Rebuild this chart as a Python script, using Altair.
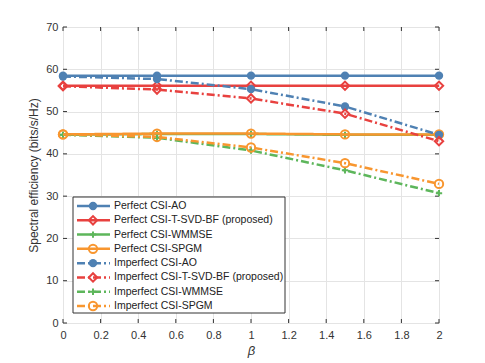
import altair as alt
import pandas as pd

beta = [0, 0.5, 1, 1.5, 2]
series_names = [
    "Perfect CSI-AO",
    "Perfect CSI-T-SVD-BF (proposed)",
    "Perfect CSI-WMMSE",
    "Perfect CSI-SPGM",
    "Imperfect CSI-AO",
    "Imperfect CSI-T-SVD-BF (proposed)",
    "Imperfect CSI-WMMSE",
    "Imperfect CSI-SPGM",
]
perfect_ao = [58.5, 58.5, 58.5, 58.5, 58.5]
perfect_tsvd = [56.1, 56.1, 56.1, 56.1, 56.1]
perfect_wmmse = [44.5, 44.7, 44.7, 44.5, 44.5]
perfect_spgm = [44.6, 44.8, 44.8, 44.6, 44.6]
imperfect_ao = [58.3, 57.7, 55.3, 51.2, 44.5]
imperfect_tsvd = [56.0, 55.2, 53.1, 49.5, 43.0]
imperfect_wmmse = [44.5, 43.8, 40.8, 36.1, 30.7]
imperfect_spgm = [44.6, 44.0, 41.5, 37.8, 32.9]
values = [perfect_ao, perfect_tsvd, perfect_wmmse, perfect_spgm,
          imperfect_ao, imperfect_tsvd, imperfect_wmmse, imperfect_spgm]

colors = ["#4f81b3", "#e8413f", "#5db65b", "#f8962f"] * 2
PLUS = "M-1,0L1,0M0,-1L0,1"
shapes = ["circle", "diamond", PLUS, "circle"] * 2
filled = [True, False, False, False] * 2
dashes = [[1, 0]] * 4 + [[8, 3, 2, 3]] * 4

x_ticks = [0, 0.2, 0.4, 0.6, 0.8, 1.0, 1.2, 1.4, 1.6, 1.8, 2.0]
y_ticks = [0, 10, 20, 30, 40, 50, 60, 70]

W, H = 376, 296
FONT = "Liberation Sans"

xs = alt.Scale(domain=[0, 2], nice=False, zero=False)
ys = alt.Scale(domain=[0, 70], nice=False)

ax_x = alt.Axis(values=x_ticks, title="β", titleFontStyle="italic",
                titleFont=FONT, titleFontSize=13, titleFontWeight="normal",
                titleColor="#333333", titlePadding=4,
                labelFont=FONT, labelFontSize=11, labelColor="#333333",
                labelExpr="format(datum.value, '~g')",
                labelOverlap=False, labelFlush=False,
                grid=True, gridColor="#e4e4e4", gridWidth=1,
                domain=False, ticks=False, labelPadding=6)
ax_y = alt.Axis(values=y_ticks, title="Spectral efficiency (bits/s/Hz)",
                titleFont=FONT, titleFontSize=12, titleFontWeight="normal",
                titleColor="#333333", titlePadding=5,
                labelFont=FONT, labelFontSize=11, labelColor="#333333",
                labelOverlap=False, labelFlush=False,
                grid=True, gridColor="#e4e4e4", gridWidth=1,
                domain=False, ticks=False, labelPadding=5)

def X(field):
    return alt.X(field, scale=xs, axis=ax_x)

def Y(field):
    return alt.Y(field, scale=ys, axis=ax_y)

# inward ticks
xt_df = pd.DataFrame({"t": x_ticks})
yt_df = pd.DataFrame({"t": y_ticks})
tick_color = "#333333"
ticks = [
    alt.Chart(xt_df).mark_rule(color=tick_color, strokeWidth=1).encode(
        x=X("t:Q"), y=alt.value(H), y2=alt.value(H - 4)),
    alt.Chart(xt_df).mark_rule(color=tick_color, strokeWidth=1).encode(
        x=X("t:Q"), y=alt.value(0), y2=alt.value(4)),
    alt.Chart(yt_df).mark_rule(color=tick_color, strokeWidth=1).encode(
        y=Y("t:Q"), x=alt.value(0), x2=alt.value(4)),
    alt.Chart(yt_df).mark_rule(color=tick_color, strokeWidth=1).encode(
        y=Y("t:Q"), x=alt.value(W), x2=alt.value(W - 4)),
]

layers = ticks
for i, name in enumerate(series_names):
    df = pd.DataFrame({"beta": beta, "se": values[i], "series": name})
    line = alt.Chart(df).mark_line(color=colors[i], strokeWidth=2.5,
                                   strokeDash=dashes[i]).encode(
        x=X("beta:Q"), y=Y("se:Q"))
    pt = alt.Chart(df).mark_point(color=colors[i], shape=shapes[i],
                                  filled=filled[i], size=70 if shapes[i] != PLUS else 40,
                                  strokeWidth=2, opacity=1).encode(
        x=X("beta:Q"), y=Y("se:Q"))
    layers += [line, pt]

main = alt.layer(*layers)

# custom legend
LX0, LX1, LY0, LY1 = 10, 222, 170, 286
box = alt.Chart(pd.DataFrame({"k": [0]})).mark_rect(
    fill="white", stroke="#333333", strokeWidth=1).encode(
    x=alt.value(LX0), x2=alt.value(LX1), y=alt.value(LY0), y2=alt.value(LY1))

leg_layers = [box]
ly = alt.Scale(domain=[0, 7], range=[179, 279])
for i, name in enumerate(series_names):
    ldf = pd.DataFrame({"idx": [i], "label": [name]})
    leg_layers.append(alt.Chart(ldf).mark_rule(color=colors[i], strokeWidth=2.5,
                                               strokeDash=dashes[i]).encode(
        y=alt.Y("idx:Q", scale=ly, axis=None), x=alt.value(14), x2=alt.value(47)))
    leg_layers.append(alt.Chart(ldf).mark_point(color=colors[i], shape=shapes[i],
                                                filled=filled[i],
                                                size=70 if shapes[i] != PLUS else 40,
                                                strokeWidth=2, opacity=1).encode(
        y=alt.Y("idx:Q", scale=ly, axis=None), x=alt.value(30)))
    leg_layers.append(alt.Chart(ldf).mark_text(align="left", baseline="middle",
                                               font=FONT, fontSize=10.5, color="#222222").encode(
        y=alt.Y("idx:Q", scale=ly, axis=None), x=alt.value(51), text="label:N"))

legend = alt.layer(*leg_layers)

chart = alt.layer(main, legend).resolve_scale(y="independent").properties(
    width=W, height=H,
    autosize=alt.AutoSizeParams(type="none"),
    padding={"left": 55, "top": 19, "right": 30, "bottom": 40},
).configure_view(stroke="#8a8a8a", strokeWidth=1).configure_axis(
    labelOverlap=False
).configure(background="white")

chart.save("out.html", embed_options={"renderer": "svg", "actions": False})
